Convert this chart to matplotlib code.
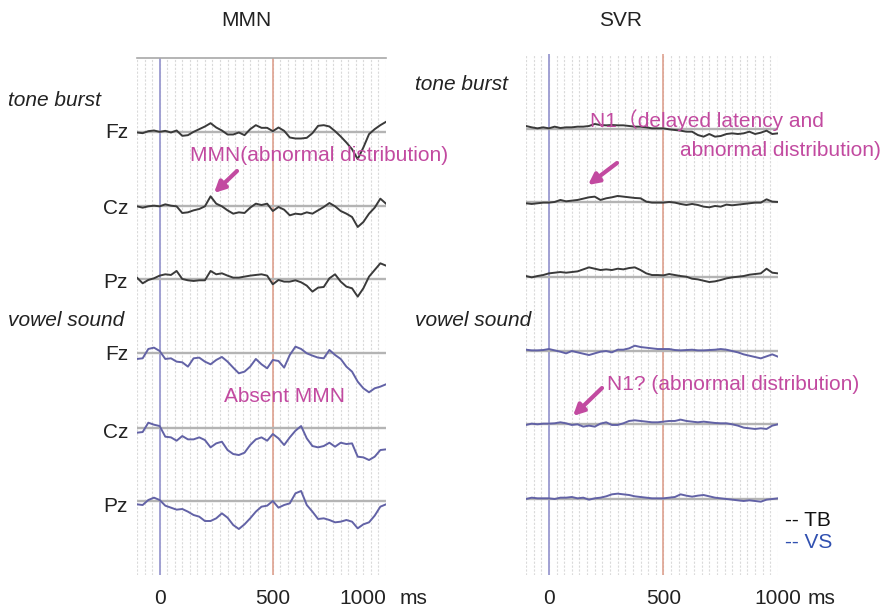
import numpy as np
import matplotlib
matplotlib.use("Agg")
import matplotlib.pyplot as plt

plt.rcParams['font.family'] = ['Liberation Sans', 'Noto Sans CJK JP', 'DejaVu Sans']

# ---------------- data ----------------
time_ms = np.arange(-100, 1001, 25)          # sampling times (ms)
channels = ["Fz", "Cz", "Pz"]
conditions = ["tone burst", "vowel sound"]
panel_titles = ["MMN", "SVR"]
tick_values = [0, 500, 1000]
tick_labels = ["0", "500", "1000"]
legend_labels = ["-- TB", "-- VS"]

# MMN, tone burst (amplitude, arbitrary units, positive up)
mmn_tb_fz = [-3, -5, 1, 3, -1, 2, -3, 3, -13, -11, -1, 7, 15, 25, 12, 3, -9, -9, -3, -11, 7, 19, 11, 11, 1,
             12, 2, -18, -21, -21, -19, -5, 17, 19, 15, 1, -15, -33, -53, -83, -48, -8, 7, 19, 29]
mmn_tb_cz = [-1, -5, -1, 1, -1, 5, 1, -1, -21, -19, -13, -9, -1, 29, 7, -1, -13, -23, -19, -21, -5, 7, 3, 7, -15,
             -3, -11, -28, -23, -25, -19, -23, -13, -3, 9, -1, -15, -23, -33, -63, -48, -23, -5, 22, 7]
mmn_tb_pz = [5, -12, -2, 3, 11, 15, 13, 25, 1, -3, -5, -3, -3, 25, 15, 18, 11, 5, 5, 8, 11, 13, 15, 11, -15,
             -2, -7, -7, -3, -9, -19, -37, -25, -23, 3, 15, -7, -22, -27, -52, -27, 8, 28, 48, 41]
# MMN, vowel sound
mmn_vs_fz = [-17, -15, 13, 17, 7, -17, -15, -25, -27, -40, -15, -13, -25, -33, -20, -11, -25, -43, -60, -55,
             -40, -17, -33, -45, -20, -23, -43, -5, 20, 13, 0, -7, -13, -15, 10, -5, -17, -40, -55, -85,
             -105, -117, -105, -100, -93]
mmn_vs_cz = [-15, -13, 15, 9, 5, -27, -29, -39, -25, -35, -35, -29, -37, -59, -47, -42, -67, -79, -82, -75,
             -52, -35, -29, -39, -19, -32, -52, -29, -9, 5, -32, -55, -59, -55, -45, -57, -45, -49, -47, -87,
             -89, -97, -87, -67, -65]
mmn_vs_pz = [-10, -12, 3, 10, 3, -14, -20, -26, -24, -32, -42, -47, -60, -60, -52, -37, -50, -72, -84, -70,
             -52, -32, -17, -14, 0, -20, -12, -7, 23, 30, -12, -32, -54, -52, -57, -64, -62, -57, -62, -82,
             -70, -64, -44, -17, -10]
# SVR, tone burst
svr_tb_fz = [9, 5, 2, 5, 2, 7, 3, 5, 5, 7, 7, 9, 15, 12, 11, 12, 11, 11, 9, 7, 7, 5, 2, 2, 2,
             -1, -3, -5, -8, -8, -18, -23, -15, -23, -21, -15, -13, -15, -13, -8, -15, -11, -5, -15, -13]
svr_tb_cz = [-3, -5, -3, -1, -1, 1, 7, 3, 5, 7, 11, 15, 17, 7, 12, 15, 19, 17, 15, 13, 12, 2, -1, -1, -1,
             1, -1, -5, -8, -5, -8, -13, -15, -11, -13, -7, -9, -7, -5, -3, -1, -1, 9, 2, 1]
svr_tb_pz = [2, -2, 2, 5, 10, 12, 14, 12, 14, 16, 22, 28, 24, 20, 22, 20, 24, 22, 26, 28, 20, 10, 5, 5, 4,
             8, 5, 2, 0, -6, -8, -12, -16, -14, -10, -5, -2, 0, 2, 6, 8, 10, 24, 12, 10]
# SVR, vowel sound
svr_vs_fz = [3, 1, 1, 2, 5, 1, -3, -8, -1, -5, -9, -13, -8, -3, -1, -5, 3, 3, 7, 15, 11, 9, 7, 5, 5,
             5, 2, 1, 2, 3, 1, 1, 2, 3, 5, 3, -1, -5, -11, -15, -19, -23, -17, -11, -18]
svr_vs_cz = [-2, 2, 0, 2, 2, 3, 6, 3, -2, 0, -7, -4, -7, 2, 6, -2, -2, 3, 10, 12, 10, 8, 6, 6, 8,
             10, 10, 14, 10, 8, 6, 8, 6, 4, 3, 3, 0, -4, -10, -12, -14, -12, -14, -4, 0]
svr_vs_pz = [0, 4, 2, 2, 2, 0, 4, 4, 6, 2, 4, -2, 2, 4, 8, 14, 16, 14, 12, 8, 6, 4, 2, 2, 2,
             4, 6, 14, 10, 7, 10, 12, 8, 4, 2, 0, -2, -4, -6, -4, -6, -8, -2, 0, 2]

# ---------------- layout ----------------
W, H = 887, 611
fig = plt.figure(figsize=(W / 100, H / 100), dpi=100)

def fx(x):
    return x / W

def fy(y):
    return 1 - y / H

GAIN = 1 / 3.0
TB_COLOR = "#3a3a3a"
VS_COLOR = "#6262a6"
BASE_COLOR = "#b4b4b4"
ZERO_COLOR = "#9a9ad0"
MID_COLOR = "#dc9a86"
MAG = "#c24aa0"
FS = 15

panels = [
    dict(rect=(137, 58, 386, 575), title=panel_titles[0], tx=246,
         traces=[mmn_tb_fz, mmn_tb_cz, mmn_tb_pz, mmn_vs_fz, mmn_vs_cz, mmn_vs_pz],
         bases=[131.5, 206, 279.3, 353.3, 427.7, 501], top_line=True),
    dict(rect=(526, 54, 778, 575), title=panel_titles[1], tx=621,
         traces=[svr_tb_fz, svr_tb_cz, svr_tb_pz, svr_vs_fz, svr_vs_cz, svr_vs_pz],
         bases=[129, 202.3, 276.7, 350.7, 424.3, 499], top_line=False),
]

for pi, p in enumerate(panels):
    x0, y0, x1, y1 = p["rect"]
    ax = fig.add_axes([fx(x0), fy(y1), (x1 - x0) / W, (y1 - y0) / H])
    ax.set_xlim(-100, 1000)
    ax.set_ylim(y1, y0)
    for s in ax.spines.values():
        s.set_visible(False)
    if p["top_line"]:
        ax.spines["top"].set_visible(True)
        ax.spines["top"].set_color("#a8a8a8")
        ax.spines["top"].set_linewidth(1.2)
    ax.set_yticks([])
    # vertical grid
    for g in np.arange(-100, 1001, 500 / 15):
        ax.axvline(g, color="#dadada", lw=0.8, ls=(0, (2, 1.5)), zorder=0)
    ax.axvline(0, color=ZERO_COLOR, lw=1.3, zorder=1)
    ax.axvline(500, color=MID_COLOR, lw=1.1, zorder=1)
    for k, (tr, b) in enumerate(zip(p["traces"], p["bases"])):
        ax.axhline(b, color=BASE_COLOR, lw=1.7, zorder=2)
        col = TB_COLOR if k < 3 else VS_COLOR
        ax.plot(time_ms, b - np.asarray(tr) * GAIN, color=col, lw=1.4, zorder=3)
    ax.set_xticks(tick_values)
    ax.set_xticklabels(tick_labels, fontsize=FS, color="#222222")
    ax.tick_params(axis="x", length=0, pad=10)
    if pi == 0:
        ax.get_xticklabels()[-1].set_ha("right")
    fig.text(fx(p["tx"]), fy(20), p["title"], fontsize=FS, ha="center", va="center", color="#222222")

# ms labels
fig.text(fx(400), fy(598), "ms", fontsize=FS, ha="left", va="center", color="#222222")
fig.text(fx(808), fy(598), "ms", fontsize=FS, ha="left", va="center", color="#222222")

# condition labels
for (x, y, s) in [(8, 100, conditions[0]), (8, 320, conditions[1]),
                  (415, 85, conditions[0]), (415, 320, conditions[1])]:
    fig.text(fx(x), fy(y), s, fontsize=FS, style="italic", ha="left", va="center", color="#222222")

# channel labels (left panel)
for y, ch in zip([133, 208, 282, 355, 432, 506], channels * 2):
    fig.text(fx(128), fy(y), ch, fontsize=FS, ha="right", va="center", color="#222222")

# legend
fig.text(fx(785), fy(520), legend_labels[0], fontsize=FS, ha="left", va="center", color="#111111")
fig.text(fx(785), fy(543), legend_labels[1], fontsize=FS, ha="left", va="center", color="#3050b0")

# annotations
fig.text(fx(190), fy(155), "MMN(abnormal distribution)", fontsize=FS, ha="left", va="center", color=MAG)
fig.text(fx(224), fy(396), "Absent MMN", fontsize=FS, ha="left", va="center", color=MAG)
fig.text(fx(590), fy(120), "N1（delayed latency and", fontsize=FS, ha="left", va="center", color=MAG)
fig.text(fx(680), fy(150), "abnormal distribution)", fontsize=FS, ha="left", va="center", color=MAG)
fig.text(fx(607), fy(385), "N1? (abnormal distribution)", fontsize=FS, ha="left", va="center", color=MAG)

for (tail, head) in [((237, 171), (214, 193)), ((617, 163), (588, 185)), ((602, 388), (573, 416))]:
    fig.add_artist(matplotlib.patches.FancyArrowPatch(
        (fx(tail[0]), fy(tail[1])), (fx(head[0]), fy(head[1])), transform=fig.transFigure,
        arrowstyle="-|>", mutation_scale=16, lw=3, color=MAG, shrinkA=0, shrinkB=0))

fig.savefig("out.png", dpi=100, facecolor="white")
